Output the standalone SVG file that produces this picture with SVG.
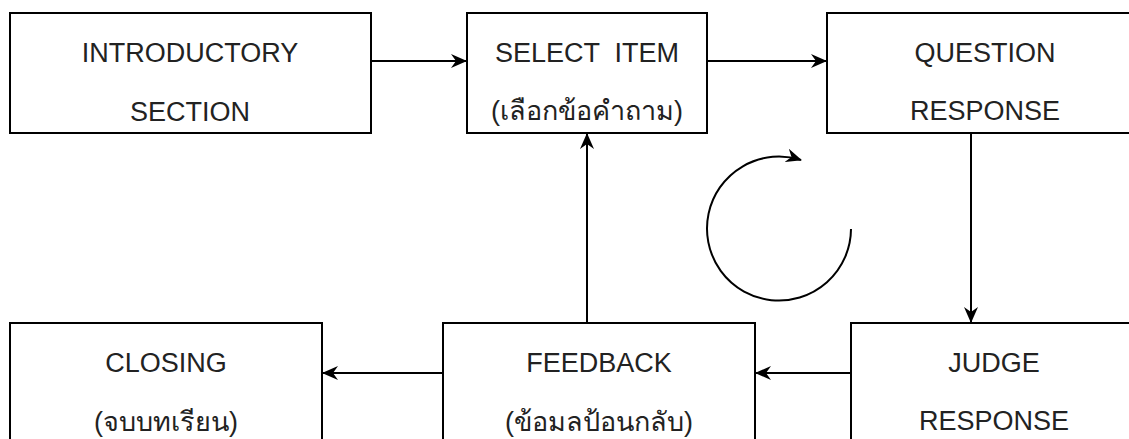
<svg xmlns="http://www.w3.org/2000/svg" width="1129" height="439" viewBox="0 0 1129 439">
<style>
.box{fill:#fff;stroke:#000;stroke-width:2}
.t{font-family:"Liberation Sans",Arial,sans-serif;font-size:27px;fill:#222;text-anchor:middle;white-space:pre}
.c{fill:none;stroke:#000;stroke-width:2}
</style>
<defs>
<marker id="ah" viewBox="0 0 16 14" refX="15" refY="7" markerWidth="16" markerHeight="14" markerUnits="userSpaceOnUse" orient="auto">
<path d="M0,0 L16,7 L0,14 L5,7 z" fill="#000"/>
</marker>
</defs>
<rect width="1129" height="439" fill="#fff"/>
<g id="connectors">
<line class="c" x1="371" y1="61" x2="466" y2="61" marker-end="url(#ah)"/>
<line class="c" x1="707" y1="61" x2="826" y2="61" marker-end="url(#ah)"/>
<line class="c" x1="971" y1="133" x2="971" y2="322" marker-end="url(#ah)"/>
<line class="c" x1="851" y1="373" x2="756" y2="373" marker-end="url(#ah)"/>
<line class="c" x1="443" y1="373" x2="323" y2="373" marker-end="url(#ah)"/>
<line class="c" x1="587" y1="323" x2="587" y2="134" marker-end="url(#ah)"/>
<path class="c" d="M851,229 A72,72 0 1 1 801,160" marker-end="url(#ah)"/>
</g>
<g id="introductory">
<rect class="box" x="10" y="13" width="361" height="120"/>
<text class="t" x="190" y="62">INTRODUCTORY</text>
<text class="t" x="190" y="121">SECTION</text>
</g>
<g id="select-item">
<rect class="box" x="467" y="13" width="240" height="120"/>
<text class="t" x="587" y="62">SELECT  ITEM</text>
<text class="t" x="587" y="120">(เลือกข้อคำถาม)</text>
</g>
<g id="question-response">
<rect class="box" x="827" y="13" width="320" height="120"/>
<text class="t" x="985" y="62">QUESTION</text>
<text class="t" x="985" y="120">RESPONSE</text>
</g>
<g id="closing">
<rect class="box" x="10" y="323" width="312" height="130"/>
<text class="t" x="166" y="372">CLOSING</text>
<text class="t" x="166" y="431">(จบบทเรียน)</text>
</g>
<g id="feedback">
<rect class="box" x="443" y="323" width="312" height="130"/>
<text class="t" x="599" y="372">FEEDBACK</text>
<text class="t" x="599" y="431">(ข้อมลป้อนกลับ)</text>
</g>
<g id="judge-response">
<rect class="box" x="851" y="323" width="300" height="130"/>
<text class="t" x="994" y="372">JUDGE</text>
<text class="t" x="994" y="430">RESPONSE</text>
</g>
</svg>
